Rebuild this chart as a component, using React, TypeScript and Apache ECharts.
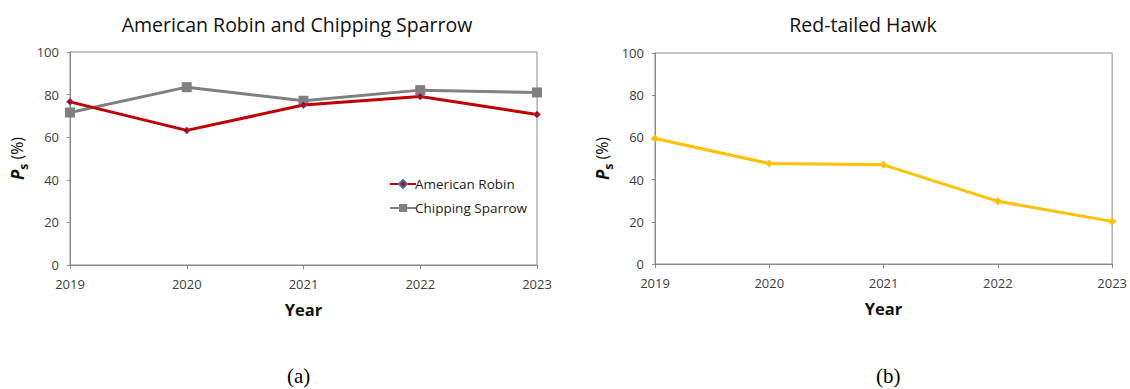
import React, { useEffect, useRef } from "react";
import * as echarts from "echarts";

const years = ["2019", "2020", "2021", "2022", "2023"];
const robin = [76.6, 63.2, 75.1, 79.1, 70.7];
const sparrow = [71.6, 83.5, 77.1, 82.1, 81.0];
const hawk = [59.5, 47.6, 47.0, 29.7, 20.2];
const yTicks = { min: 0, max: 100, interval: 20 };

const FONT = "'Open Sans', 'Noto Sans', sans-serif";
const AXIS_COLOR = "#8a8a8a";
const LABEL_COLOR = "#404040";

const yName = "{p|P}{s|s}{n| (%)}";
const yRich = {
  p: { fontSize: 17, fontWeight: "bold", fontStyle: "italic", color: "#111", fontFamily: FONT, lineHeight: 24, verticalAlign: "middle" },
  s: { fontSize: 12, fontWeight: "bold", color: "#111", fontFamily: FONT, lineHeight: 24, verticalAlign: "bottom" },
  n: { fontSize: 16, fontWeight: "normal", color: "#111", fontFamily: FONT, lineHeight: 24, verticalAlign: "middle" },
};

function xAxis(gridIndex: number) {
  return {
    type: "category",
    gridIndex,
    data: years,
    boundaryGap: false,
    name: "Year",
    nameLocation: "middle",
    nameGap: 36,
    nameTextStyle: { fontSize: 16.5, fontWeight: "bold", color: "#111", fontFamily: FONT },
    axisLine: { show: true, lineStyle: { color: AXIS_COLOR, width: 1 } },
    axisTick: { show: true, alignWithLabel: true, length: 4, lineStyle: { color: AXIS_COLOR } },
    axisLabel: { color: LABEL_COLOR, fontSize: 13, margin: 12, fontFamily: FONT },
    splitLine: { show: false },
  };
}

function yAxis(gridIndex: number) {
  return {
    type: "value",
    gridIndex,
    min: yTicks.min,
    max: yTicks.max,
    interval: yTicks.interval,
    name: yName,
    nameLocation: "middle",
    nameRotate: 90,
    nameGap: 41,
    nameTextStyle: { fontSize: 16, color: "#111", fontFamily: FONT, rich: yRich },
    axisLine: { show: true, lineStyle: { color: AXIS_COLOR, width: 1 } },
    axisTick: { show: true, length: 3, lineStyle: { color: AXIS_COLOR } },
    axisLabel: { color: LABEL_COLOR, fontSize: 13, margin: 11, fontFamily: FONT },
    splitLine: { show: false },
  };
}

export default function App() {
  const ref = useRef<HTMLDivElement>(null);
  useEffect(() => {
    document.body.style.margin = "0";
    const chart = echarts.init(ref.current!, null, { renderer: "svg" });
    chart.setOption({
      animation: false,
      backgroundColor: "#ffffff",
      title: [
        {
          text: "American Robin and Chipping Sparrow",
          left: 292,
          top: 9,
          textAlign: "center",
          textStyle: { fontSize: 19.5, fontWeight: "normal", color: "#111", fontFamily: FONT },
        },
        {
          text: "Red-tailed Hawk",
          left: 858,
          top: 9,
          textAlign: "center",
          textStyle: { fontSize: 19.5, fontWeight: "normal", color: "#111", fontFamily: FONT },
        },
      ],
      grid: [
        { left: 70, top: 52, width: 467, height: 213, show: true, borderColor: AXIS_COLOR, borderWidth: 1, backgroundColor: "transparent" },
        { left: 655, top: 53, width: 460, height: 211, show: true, borderColor: AXIS_COLOR, borderWidth: 1, backgroundColor: "transparent" },
      ],
      xAxis: [xAxis(0), xAxis(1)],
      yAxis: [yAxis(0), yAxis(1)],
      legend: {
        orient: "vertical",
        left: 384,
        top: 172,
        itemWidth: 26,
        itemHeight: 10,
        itemGap: 10,
        data: ["American Robin", "Chipping Sparrow"],
        textStyle: { fontSize: 13.5, color: "#222", fontFamily: FONT, padding: [0, 0, 0, -6] },
      },
      series: [
        {
          name: "American Robin",
          type: "line",
          xAxisIndex: 0,
          yAxisIndex: 0,
          data: robin,
          symbol: "diamond",
          symbolSize: 7,
          lineStyle: { color: "#C00000", width: 3 },
          itemStyle: { color: "#C00000", borderColor: "#4a6fb0", borderWidth: 0.8 },
          z: 3,
        },
        {
          name: "Chipping Sparrow",
          type: "line",
          xAxisIndex: 0,
          yAxisIndex: 0,
          data: sparrow,
          symbol: "rect",
          symbolSize: 10,
          lineStyle: { color: "#808080", width: 3 },
          itemStyle: { color: "#808080" },
          z: 2,
        },
        {
          name: "Red-tailed Hawk",
          type: "line",
          xAxisIndex: 1,
          yAxisIndex: 1,
          data: hawk,
          symbol: "diamond",
          symbolSize: 8,
          lineStyle: { color: "#FFC000", width: 3 },
          itemStyle: { color: "#FFC000" },
        },
      ],
      graphic: [
        { type: "text", left: 287, top: 365, style: { text: "(a)", fontSize: 21, fill: "#000", fontFamily: "'Liberation Serif', 'DejaVu Serif', serif" } },
        { type: "text", left: 876, top: 365, style: { text: "(b)", fontSize: 21, fill: "#000", fontFamily: "'Liberation Serif', 'DejaVu Serif', serif" } },
      ],
    });
    return () => chart.dispose();
  }, []);
  return <div ref={ref} style={{ position: "fixed", left: 0, top: 0, width: 1130, height: 389 }} />;
}
